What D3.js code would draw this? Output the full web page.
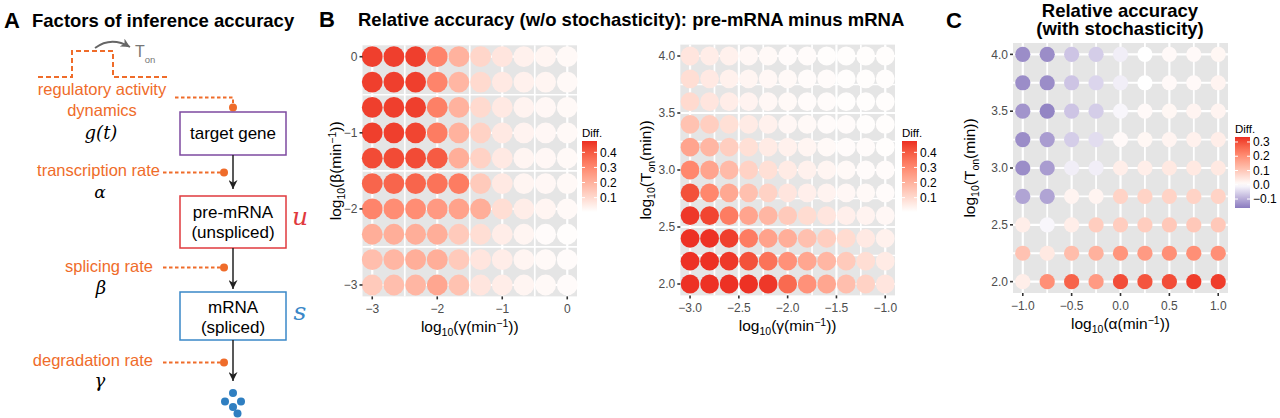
<!DOCTYPE html>
<html lang="en">
<head>
<meta charset="UTF-8">
<title>Inference accuracy</title>
<style>
  body { margin: 0; background: #fff; }
  svg { display: block; font-family: "Liberation Sans", Arial, sans-serif; }
  .tick-label { font-size: 12px; fill: #4d4d4d; }
  .axis-title { font-size: 15.5px; fill: #000; }
  .title { font-size: 18.5px; font-weight: bold; }
  .letter { font-size: 22px; font-weight: bold; }
  .orange { fill: #ef6c2a; font-size: 16.5px; }
  .box-text { font-size: 17px; text-anchor: middle; }
  .math { font-family: "DejaVu Serif", serif; font-style: italic; }
  .legend-title { font-size: 11.5px; }
  .legend-label { font-size: 12px; }
</style>
</head>
<body>
<svg width="1280" height="418"></svg>
<script src="https://cdn.jsdelivr.net/npm/d3@7/dist/d3.min.js"></script>
<script>
  // panel B left: beta vs gamma
  var gammaLeft = [-3, -2.667, -2.333, -2, -1.667, -1.333, -1, -0.667, -0.333, 0]
  var betaLeft = [0, -0.333, -0.667, -1, -1.333, -1.667, -2, -2.333, -2.667, -3]
  var diffLeft = [
    [0.45, 0.45, 0.45, 0.31, 0.20, 0.11, 0.07, 0.04, 0.03, 0.02],
    [0.45, 0.45, 0.45, 0.31, 0.19, 0.10, 0.06, 0.04, 0.03, 0.02],
    [0.45, 0.45, 0.45, 0.32, 0.20, 0.10, 0.06, 0.035, 0.025, 0.02],
    [0.45, 0.45, 0.44, 0.33, 0.20, 0.12, 0.06, 0.035, 0.025, 0.02],
    [0.43, 0.43, 0.43, 0.40, 0.21, 0.12, 0.06, 0.03, 0.025, 0.02],
    [0.38, 0.38, 0.38, 0.35, 0.33, 0.14, 0.06, 0.03, 0.025, 0.02],
    [0.31, 0.29, 0.29, 0.26, 0.24, 0.21, 0.09, 0.05, 0.03, 0.02],
    [0.21, 0.21, 0.21, 0.21, 0.14, 0.09, 0.05, 0.03, 0.015, 0.01],
    [0.17, 0.19, 0.21, 0.21, 0.14, 0.07, 0.05, 0.03, 0.02, 0.015],
    [0.14, 0.17, 0.19, 0.23, 0.16, 0.07, 0.05, 0.03, 0.02, 0.015]
  ]
  var xTicksLeft = [-3, -2, -1, 0]
  var xMinorLeft = [-2.5, -1.5, -0.5]
  var yTicksLeft = [0, -1, -2, -3]
  var yMinorLeft = [-0.5, -1.5, -2.5]

  // panel B right: T_on vs gamma
  var gammaRight = [-3.0, -2.8, -2.6, -2.4, -2.2, -2.0, -1.8, -1.6, -1.4, -1.2, -1.0]
  var tonRight = [4.0, 3.8, 3.6, 3.4, 3.2, 3.0, 2.8, 2.6, 2.4, 2.2, 2.0]
  var diffRight = [
    [0.07, 0.05, 0.04, 0.025, 0.02, 0.015, 0.015, 0.01, 0.01, 0.01, 0.01],
    [0.09, 0.06, 0.04, 0.03, 0.025, 0.02, 0.015, 0.015, 0.01, 0.01, 0.01],
    [0.10, 0.07, 0.05, 0.035, 0.025, 0.02, 0.015, 0.015, 0.01, 0.01, 0.01],
    [0.16, 0.13, 0.085, 0.055, 0.04, 0.025, 0.02, 0.015, 0.015, 0.01, 0.01],
    [0.235, 0.19, 0.13, 0.085, 0.055, 0.04, 0.03, 0.02, 0.015, 0.015, 0.01],
    [0.305, 0.235, 0.18, 0.12, 0.085, 0.055, 0.04, 0.03, 0.02, 0.015, 0.015],
    [0.42, 0.305, 0.225, 0.165, 0.12, 0.07, 0.045, 0.035, 0.025, 0.02, 0.015],
    [0.46, 0.44, 0.33, 0.235, 0.19, 0.14, 0.095, 0.07, 0.045, 0.035, 0.025],
    [0.47, 0.47, 0.45, 0.33, 0.24, 0.21, 0.165, 0.13, 0.095, 0.06, 0.04],
    [0.47, 0.47, 0.46, 0.42, 0.35, 0.28, 0.23, 0.19, 0.14, 0.09, 0.055],
    [0.47, 0.47, 0.47, 0.47, 0.46, 0.37, 0.28, 0.23, 0.17, 0.12, 0.07]
  ]
  var xTicksRight = [-3.0, -2.5, -2.0, -1.5, -1.0]
  var xMinorRight = [-2.75, -2.25, -1.75, -1.25]
  var yTicksTon = [2.0, 2.5, 3.0, 3.5, 4.0]
  var yMinorTon = [2.25, 2.75, 3.25, 3.75]

  // panel C: T_on vs alpha, with stochasticity
  var alphaC = [-1, -0.75, -0.5, -0.25, 0, 0.25, 0.5, 0.75, 1]
  var tonC = [4.0, 3.75, 3.5, 3.25, 3.0, 2.75, 2.5, 2.25, 2.0]
  var diffC = [
    [-0.14, -0.14, -0.07, -0.06, -0.02, 0.0, 0.01, 0.01, 0.015],
    [-0.14, -0.14, -0.07, -0.05, -0.02, 0.0, 0.01, 0.01, 0.02],
    [-0.13, -0.15, -0.07, -0.06, -0.01, 0.01, 0.015, 0.02, 0.02],
    [-0.14, -0.12, -0.06, -0.04, 0.01, 0.015, 0.02, 0.025, 0.03],
    [-0.14, -0.12, -0.02, -0.02, 0.03, 0.03, 0.04, 0.04, 0.04],
    [-0.11, -0.11, 0.02, 0.02, 0.08, 0.08, 0.08, 0.08, 0.08],
    [0.03, -0.01, 0.03, 0.09, 0.09, 0.09, 0.10, 0.10, 0.10],
    [0.11, 0.04, 0.12, 0.14, 0.19, 0.18, 0.20, 0.20, 0.20],
    [0.03, 0.20, 0.27, 0.18, 0.30, 0.29, 0.30, 0.32, 0.32]
  ]
  var xTicksC = [-1.0, -0.5, 0.0, 0.5, 1.0]
  var xMinorC = [-0.75, -0.25, 0.25, 0.75]

  var legendTicksB = [0.1, 0.2, 0.3, 0.4]
  var legendTicksC = [-0.1, 0.0, 0.1, 0.2, 0.3]

  var svg = d3.select('svg')
  var orange = '#ef6c2a'

  var colorB = d3.scaleLinear().domain([0.005, 0.475])
    .range(['#ffffff', '#ec2d22']).interpolate(d3.interpolateLab).clamp(true)
  var colorC = d3.scaleLinear().domain([-0.163, 0, 0.335])
    .range(['#8a7bbf', '#ffffff', '#ec2d22']).interpolate(d3.interpolateLab).clamp(true)

  // text with sub/superscripts: parts = [[text, 'sub'|'sup'|'']]
  function richText(sel, parts) {
    var shift = 0
    parts.forEach(function(p) {
      var want = p[1] === 'sub' ? 4 : p[1] === 'sup' ? -5 : 0
      var ts = sel.append('tspan').text(p[0]).attr('dy', want - shift)
      if (p[1]) ts.style('font-size', '10.5px')
      shift = want
    })
  }

  function drawPanel(cfg) {
    var x = d3.scaleLinear().domain(cfg.xDomain).range([cfg.left, cfg.right])
    var y = d3.scaleLinear().domain(cfg.yDomain).range([cfg.bottom, cfg.top])
    var g = svg.append('g')

    g.append('rect')
      .attr('x', cfg.left).attr('y', cfg.top)
      .attr('width', cfg.right - cfg.left).attr('height', cfg.bottom - cfg.top)
      .attr('fill', '#e5e5e5')

    function vlines(vals, w) {
      g.selectAll(null).data(vals).enter().append('line')
        .attr('x1', d => x(d)).attr('x2', d => x(d))
        .attr('y1', cfg.top).attr('y2', cfg.bottom)
        .attr('stroke', '#fff').attr('stroke-width', w)
    }
    function hlines(vals, w) {
      g.selectAll(null).data(vals).enter().append('line')
        .attr('y1', d => y(d)).attr('y2', d => y(d))
        .attr('x1', cfg.left).attr('x2', cfg.right)
        .attr('stroke', '#fff').attr('stroke-width', w)
    }
    vlines(cfg.xMinor, cfg.minorW)
    hlines(cfg.yMinor, cfg.minorW)
    vlines(cfg.xTicks, cfg.majorW)
    hlines(cfg.yTicks, cfg.majorW)

    // points
    var cells = []
    cfg.ys.forEach(function(yv, i) {
      cfg.xs.forEach(function(xv, j) {
        cells.push({ x: xv, y: yv, v: cfg.values[i][j] })
      })
    })
    g.selectAll('circle.pt').data(cells).enter().append('circle')
      .attr('class', 'pt')
      .attr('cx', d => x(d.x)).attr('cy', d => y(d.y))
      .attr('r', cfg.r)
      .attr('fill', d => cfg.color(d.v))

    // x axis
    g.selectAll(null).data(cfg.xTicks).enter().append('line')
      .attr('x1', d => x(d)).attr('x2', d => x(d))
      .attr('y1', cfg.bottom).attr('y2', cfg.bottom + 3)
      .attr('stroke', '#333').attr('stroke-width', 1.6)
    g.selectAll(null).data(cfg.xTicks).enter().append('text')
      .attr('class', 'tick-label')
      .attr('x', d => x(d)).attr('y', cfg.bottom + 17)
      .attr('text-anchor', 'middle')
      .text(cfg.xFormat)

    // y axis
    g.selectAll(null).data(cfg.yTicks).enter().append('line')
      .attr('y1', d => y(d)).attr('y2', d => y(d))
      .attr('x1', cfg.left - 3).attr('x2', cfg.left)
      .attr('stroke', '#333').attr('stroke-width', 1.6)
    g.selectAll(null).data(cfg.yTicks).enter().append('text')
      .attr('class', 'tick-label')
      .attr('x', cfg.left - 5).attr('y', d => y(d))
      .attr('dy', '0.35em')
      .attr('text-anchor', 'end')
      .text(cfg.yFormat)

    var xt = g.append('text').attr('class', 'axis-title')
      .attr('x', (cfg.left + cfg.right) / 2).attr('y', cfg.bottom + 36)
      .attr('text-anchor', 'middle')
    richText(xt, cfg.xTitle)

    var yt = g.append('text').attr('class', 'axis-title')
      .attr('transform', 'translate(' + cfg.yTitleX + ',' + (cfg.top + cfg.bottom) / 2 + ') rotate(-90)')
      .attr('text-anchor', 'middle')
    richText(yt, cfg.yTitle)
  }

  function drawLegend(cfg) {
    var g = svg.append('g')
    var s = d3.scaleLinear().domain(cfg.domain).range([cfg.bottom, cfg.top])
    var id = 'grad' + cfg.id
    var grad = svg.append('defs').append('linearGradient')
      .attr('id', id).attr('x1', 0).attr('y1', 1).attr('x2', 0).attr('y2', 0)
    d3.range(0, 1.0001, 0.05).forEach(function(t) {
      var v = cfg.domain[0] + t * (cfg.domain[1] - cfg.domain[0])
      grad.append('stop').attr('offset', t).attr('stop-color', cfg.color(v))
    })
    g.append('text').attr('class', 'legend-title')
      .attr('x', cfg.x).attr('y', cfg.top - 4).text('Diff.')
    g.append('rect')
      .attr('x', cfg.x).attr('y', cfg.top)
      .attr('width', 15).attr('height', cfg.bottom - cfg.top)
      .attr('fill', 'url(#' + id + ')')
    cfg.ticks.forEach(function(t) {
      g.append('line').attr('x1', cfg.x).attr('x2', cfg.x + 3)
        .attr('y1', s(t)).attr('y2', s(t)).attr('stroke', '#fff').attr('stroke-width', 1)
      g.append('line').attr('x1', cfg.x + 12).attr('x2', cfg.x + 15)
        .attr('y1', s(t)).attr('y2', s(t)).attr('stroke', '#fff').attr('stroke-width', 1)
    })
    g.selectAll(null).data(cfg.ticks).enter().append('text')
      .attr('class', 'legend-label')
      .attr('x', cfg.x + 18).attr('y', d => s(d)).attr('dy', '0.35em')
      .text(d3.format('.1f'))
  }

  var gammaTitle = [['log', ''], ['10', 'sub'], ['(γ(min', ''], ['−1', 'sup'], ['))', '']]
  var tonTitle = [['log', ''], ['10', 'sub'], ['(T', ''], ['on', 'sub'], ['(min))', '']]

  drawPanel({
    left: 362.5, right: 577, top: 45.3, bottom: 296.4,
    xDomain: [-3.15, 0.15], yDomain: [-3.15, 0.15],
    xs: gammaLeft, ys: betaLeft, values: diffLeft, color: colorB, r: 10.4,
    xTicks: xTicksLeft, xMinor: xMinorLeft, yTicks: yTicksLeft, yMinor: yMinorLeft,
    majorW: 2.2, minorW: 1.7,
    xFormat: d3.format('d'), yFormat: d3.format('d'),
    xTitle: gammaTitle,
    yTitle: [['log', ''], ['10', 'sub'], ['(β(min', ''], ['−1', 'sup'], ['))', '']],
    yTitleX: 341
  })
  drawLegend({ id: 'L', x: 582, top: 141, bottom: 212, domain: [0.005, 0.475], color: colorB, ticks: legendTicksB })

  drawPanel({
    left: 680.3, right: 895, top: 44.6, bottom: 295.4,
    xDomain: [-3.1, -0.9], yDomain: [1.9, 4.1],
    xs: gammaRight, ys: tonRight, values: diffRight, color: colorB, r: 9.4,
    xTicks: xTicksRight, xMinor: xMinorRight, yTicks: yTicksTon, yMinor: yMinorTon,
    majorW: 2.2, minorW: 1.7,
    xFormat: d3.format('.1f'), yFormat: d3.format('.1f'),
    xTitle: gammaTitle, yTitle: tonTitle, yTitleX: 651
  })
  drawLegend({ id: 'R', x: 902, top: 141, bottom: 212, domain: [0.005, 0.475], color: colorB, ticks: legendTicksB })

  drawPanel({
    left: 1013, right: 1228, top: 43, bottom: 293,
    xDomain: [-1.1, 1.1], yDomain: [1.9, 4.1],
    xs: alphaC, ys: tonC, values: diffC, color: colorC, r: 7.6,
    xTicks: xTicksC, xMinor: xMinorC, yTicks: yTicksTon, yMinor: yMinorTon,
    majorW: 2.2, minorW: 1.8,
    xFormat: d3.format('.1f'), yFormat: d3.format('.1f'),
    xTitle: [['log', ''], ['10', 'sub'], ['(α(min', ''], ['−1', 'sup'], ['))', '']],
    yTitle: tonTitle, yTitleX: 975
  })
  drawLegend({ id: 'C', x: 1235, top: 137, bottom: 208, domain: [-0.163, 0.335], color: colorC, ticks: legendTicksC })

  // titles
  svg.append('text').attr('class', 'letter').attr('x', 4).attr('y', 28).text('A')
  svg.append('text').attr('class', 'title').attr('x', 32).attr('y', 27).text('Factors of inference accuracy')
  svg.append('text').attr('class', 'letter').attr('x', 319).attr('y', 27).text('B')
  svg.append('text').attr('class', 'title').attr('x', 358).attr('y', 26)
    .text('Relative accuracy (w/o stochasticity): pre-mRNA minus mRNA')
  svg.append('text').attr('class', 'letter').attr('x', 946).attr('y', 28).text('C')
  var cTitle = svg.append('text').attr('class', 'title').attr('text-anchor', 'middle')
  cTitle.append('tspan').attr('x', 1120).attr('y', 16.5).text('Relative accuracy')
  cTitle.append('tspan').attr('x', 1120).attr('dy', 18.5).text('(with stochasticity)')

  // panel A diagram
  var defs = svg.append('defs')
  defs.append('marker').attr('id', 'head').attr('viewBox', '0 0 10 10')
    .attr('refX', 10).attr('refY', 5).attr('markerWidth', 9).attr('markerHeight', 9)
    .attr('markerUnits', 'userSpaceOnUse').attr('orient', 'auto')
    .append('path').attr('d', 'M0,0 L10,5 L0,10 L3,5 Z').attr('fill', '#222')
  defs.append('marker').attr('id', 'headGray').attr('viewBox', '0 0 10 10')
    .attr('refX', 10).attr('refY', 5).attr('markerWidth', 9).attr('markerHeight', 9)
    .attr('markerUnits', 'userSpaceOnUse').attr('orient', 'auto')
    .append('path').attr('d', 'M0,0 L10,5 L0,10 L3,5 Z').attr('fill', '#666')

  var a = svg.append('g')
  a.append('path').attr('d', 'M38,77 H72 V51 H113 V77 H170')
    .attr('fill', 'none').attr('stroke', orange).attr('stroke-width', 2).attr('stroke-dasharray', '5,3')
  a.append('path').attr('d', 'M95,48 Q111,36 130,47')
    .attr('fill', 'none').attr('stroke', '#666').attr('stroke-width', 1.8).attr('marker-end', 'url(#headGray)')
  var ton = a.append('text').attr('x', 135).attr('y', 57).attr('fill', '#777').style('font-size', '16px')
  ton.append('tspan').text('T')
  ton.append('tspan').text('on').attr('dy', 6).style('font-size', '9.5px')

  a.append('text').attr('class', 'orange').attr('x', 102).attr('y', 95).attr('text-anchor', 'middle').text('regulatory activity')
  a.append('text').attr('class', 'orange').attr('x', 102).attr('y', 116).attr('text-anchor', 'middle').text('dynamics')
  a.append('text').attr('class', 'math').attr('x', 101).attr('y', 139).attr('text-anchor', 'middle').style('font-size', '18px').text('g(t)')

  function dotted(d) {
    a.append('path').attr('d', d).attr('fill', 'none').attr('stroke', orange)
      .attr('stroke-width', 2).attr('stroke-dasharray', '3.5,2.5')
  }
  function dot(cx, cy) {
    a.append('circle').attr('cx', cx).attr('cy', cy).attr('r', 4).attr('fill', orange)
  }
  dotted('M175,97.5 H233 V104')
  dot(233, 107.5)

  function box(y, h, stroke, lines) {
    a.append('rect').attr('x', 180).attr('y', y).attr('width', 106).attr('height', h)
      .attr('fill', '#fff').attr('stroke', stroke).attr('stroke-width', 1.5)
    lines.forEach(function(l) {
      a.append('text').attr('class', 'box-text').attr('x', 233).attr('y', l[1]).text(l[0])
    })
  }
  function arrow(y1, y2) {
    a.append('line').attr('x1', 233).attr('x2', 233).attr('y1', y1).attr('y2', y2)
      .attr('stroke', '#222').attr('stroke-width', 1.5).attr('marker-end', 'url(#head)')
  }

  box(112, 43, '#7d4aa0', [['target gene', 139]])
  arrow(155, 189)
  a.append('text').attr('class', 'orange').attr('x', 160).attr('y', 176).attr('text-anchor', 'end').text('transcription rate')
  dotted('M163,172.5 H220')
  dot(224, 172.5)
  a.append('text').attr('class', 'math').attr('x', 100).attr('y', 197.5).attr('text-anchor', 'middle').style('font-size', '17px').text('α')

  box(196, 52, '#e03a3e', [['pre-mRNA', 218], ['(unspliced)', 238]])
  a.append('text').attr('class', 'math').attr('x', 300).attr('y', 225).attr('text-anchor', 'middle')
    .style('font-size', '25px').attr('fill', '#e03a3e').text('u')
  arrow(248, 289)
  a.append('text').attr('class', 'orange').attr('x', 153).attr('y', 272).attr('text-anchor', 'end').text('splicing rate')
  dotted('M163,267.5 H220')
  dot(224, 267.5)
  a.append('text').attr('class', 'math').attr('x', 101).attr('y', 294).attr('text-anchor', 'middle').style('font-size', '18px').text('β')

  box(292, 48, '#3a88c8', [['mRNA', 313], ['(spliced)', 333]])
  a.append('text').attr('class', 'math').attr('x', 300).attr('y', 320).attr('text-anchor', 'middle')
    .style('font-size', '25px').attr('fill', '#3a88c8').text('s')
  arrow(340, 381)
  a.append('text').attr('class', 'orange').attr('x', 153).attr('y', 366).attr('text-anchor', 'end').text('degradation rate')
  dotted('M163,362.5 H220')
  dot(224, 362.5)
  a.append('text').attr('class', 'math').attr('x', 100).attr('y', 387).attr('text-anchor', 'middle').style('font-size', '18px').text('γ')

  var blobs = [[233, 393], [225, 401.5], [241, 401.5], [233, 407], [237.5, 413.5]]
  a.selectAll(null).data(blobs).enter().append('circle')
    .attr('cx', d => d[0]).attr('cy', d => d[1]).attr('r', 4).attr('fill', '#2f7fc1')
</script>
</body>
</html>
